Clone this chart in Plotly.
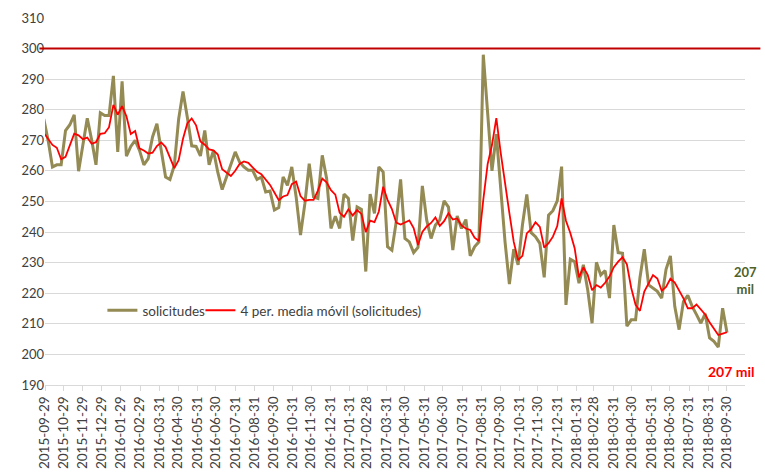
import plotly.graph_objects as go
import pandas as pd

# weekly observations (Sundays), 2015-09-27 .. 2018-09-30
dates = pd.date_range("2015-09-27", periods=158, freq="7D")

solicitudes = [
    277, 270, 261.3, 262, 262, 273.2, 275.1, 278.3, 259.9, 268.2,
    277.2, 270.2, 262, 279, 278.1, 278.1, 291.1, 266.2, 289.3, 264.8,
    268, 270, 266.7, 262, 264, 271.1, 275.4, 266.7, 258, 257.2,
    261.8, 277, 286, 277.5, 268.2, 268, 264.9, 273.2, 262, 266.7,
    259.5, 253.9, 257.9, 262.1, 266.2, 262.9, 261.3, 260.2, 260.2, 257.2,
    258, 253.1, 253.4, 247.2, 248, 258, 255.3, 261.3, 251.5, 239,
    249.3, 262.4, 251.5, 251, 265.1, 257.5, 241.2, 245.2, 241.2, 252.4,
    251, 237.2, 248.2, 247.4, 227.1, 252.4, 246.1, 261.3, 259.6, 235.2,
    234.1, 243.4, 257.2, 237.9, 236.8, 233.3, 235, 255.1, 243.9, 237.9,
    242.3, 243.9, 250.2, 248.2, 234.1, 245.3, 241.2, 244.1, 232.2, 235.2,
    236.8, 298, 279, 260, 272, 252.9, 236.8, 223, 234.4, 229.3,
    242.3, 252.3, 239.8, 238.5, 236.3, 225.2, 245.5, 247, 250.2, 261.4,
    216.2, 231.1, 230.3, 223.3, 229.3, 221.1, 210.2, 230.1, 226, 227.4,
    218.4, 242.3, 233.3, 233.1, 209.2, 211.3, 211.3, 225.1, 234.4, 222.7,
    221.6, 220.6, 218.4, 227.8, 232.2, 215.7, 208.1, 217.3, 219.3, 215.7,
    213, 210.2, 213.3, 205.4, 204.3, 202.4, 215.1, 207.2,
]

# first three moving-average values (earlier data not shown)
media_inicio = [272.5, 270.5, 268.5]

media = pd.Series(solicitudes).rolling(4).mean().tolist()
media[:3] = media_inicio

tick_labels = [
    "2015-09-29", "2015-10-29", "2015-11-29", "2015-12-29", "2016-01-29", "2016-02-29",
    "2016-03-31", "2016-04-30", "2016-05-31", "2016-06-30", "2016-07-31", "2016-08-31",
    "2016-09-30", "2016-10-31", "2016-11-30", "2016-12-31", "2017-01-31", "2017-02-28",
    "2017-03-31", "2017-04-30", "2017-05-31", "2017-06-30", "2017-07-31", "2017-08-31",
    "2017-09-30", "2017-10-31", "2017-11-30", "2017-12-31", "2018-01-31", "2018-02-28",
    "2018-03-31", "2018-04-30", "2018-05-31", "2018-06-30", "2018-07-31", "2018-08-31",
    "2018-09-30",
]

limite = 300
FONT = "Lato"
legend_style = dict(orientation="h", xanchor="left", yanchor="middle", y=0.203,
                    bgcolor="rgba(0,0,0,0)", font=dict(size=13.5, color="#404040"),
                    itemwidth=30)

fig = go.Figure()
fig.add_trace(go.Scatter(
    x=dates, y=solicitudes, mode="lines", name="solicitudes",
    line=dict(color="#948a54", width=3), legend="legend",
))
fig.add_trace(go.Scatter(
    x=dates, y=media, mode="lines", name="4 per. media móvil (solicitudes)",
    line=dict(color="#ff0000", width=1.8), legend="legend2",
))

fig.add_shape(type="line", xref="paper", yref="y", x0=-0.008, x1=1.022,
              y0=limite, y1=limite, line=dict(color="#c00000", width=2))

fig.add_annotation(xref="paper", yref="paper", x=1.02, y=0.234,
                   text="<b>207<br>mil</b>", showarrow=False,
                   font=dict(family=FONT, size=13, color="#4f6228"))
fig.add_annotation(xref="paper", yref="paper", x=1.017, y=0.008,
                   text="<b>207 mil</b>", showarrow=False,
                   font=dict(family=FONT, size=14, color="#ff0000"))

fig.update_layout(
    width=765, height=475,
    margin=dict(l=45, r=20, t=18, b=90),
    paper_bgcolor="white", plot_bgcolor="white",
    font=dict(family=FONT, color="#404040"),
    showlegend=True,
    legend=dict(x=0.082, **legend_style),
    legend2=dict(x=0.222, **legend_style),
    xaxis=dict(
        type="date", range=["2015-09-29", "2018-10-29"],
        tickmode="array", tickvals=tick_labels, ticktext=tick_labels,
        tickangle=-90, tickfont=dict(size=13.5, color="#404040"),
        showgrid=False, showline=True, linecolor="#d9d9d9", linewidth=1,
        ticks="outside", ticklen=5, tickcolor="#d9d9d9", zeroline=False,
        automargin=False,
    ),
    yaxis=dict(
        range=[190, 310], dtick=10, tick0=190,
        showgrid=True, gridcolor="#d9d9d9", gridwidth=1,
        tickfont=dict(size=13, color="#404040"), zeroline=False,
        showline=False, ticks="", automargin=False,
    ),
)

fig.write_html("out.html", config={"displayModeBar": False},
               post_script="document.body.style.margin='0';")
